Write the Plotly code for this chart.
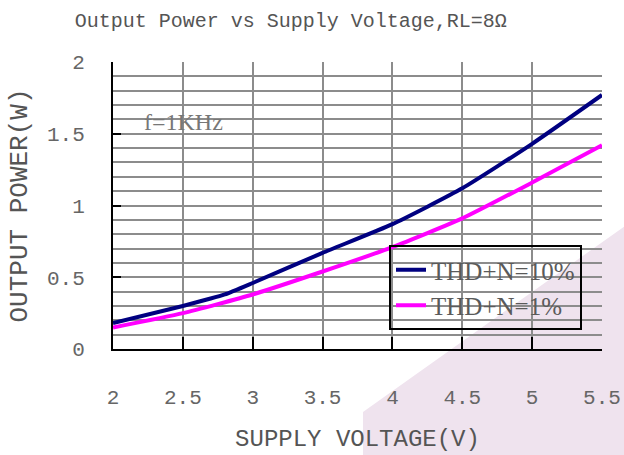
import plotly.graph_objects as go

# Output power vs supply voltage, RL = 8 ohm, f = 1 kHz
volts_10 = [2.0, 2.5, 2.8, 3.0, 3.5, 4.0, 4.5, 5.0, 5.5]
power_10 = [0.18, 0.30, 0.38, 0.46, 0.67, 0.87, 1.12, 1.43, 1.77]
volts_1 = [2.0, 2.5, 3.0, 3.5, 4.0, 4.5, 5.0, 5.5]
power_1 = [0.15, 0.25, 0.38, 0.54, 0.71, 0.91, 1.16, 1.42]

x_ticks = [2, 2.5, 3, 3.5, 4, 4.5, 5, 5.5]
x_labels = ["2", "2.5", "3", "3.5", "4", "4.5", "5", "5.5"]
y_ticks = [0, 0.5, 1, 1.5, 2]
y_labels = ["0", "0.5", "1", "1.5", "2"]

MONO = "Liberation Mono"
SERIF = "Liberation Serif"
GRID = "#8c8c8c"

fig = go.Figure()
fig.add_trace(go.Scatter(
    x=volts_10, y=power_10, mode="lines", name="THD+N=10%",
    line=dict(color="#000080", width=4, shape="spline", smoothing=0.5),
    legendgroup="a"))
fig.add_trace(go.Scatter(
    x=volts_1, y=power_1, mode="lines", name="THD+N=1%",
    line=dict(color="#ff00ff", width=4, shape="spline", smoothing=0.5),
    legendgroup="b"))

# plot-area geometry in pixels, used for paper-space placement
L, R, T, B = 113, 602, 62, 349
W, H = float(R - L), float(B - T)
def px(xp):
    return (xp - L) / W
def py(yp):
    return (B - yp) / H

# faint lavender backdrop in the lower right corner
path = "M {:.4f},{:.4f} L {:.4f},{:.4f} L {:.4f},{:.4f} L {:.4f},{:.4f} Z".format(
    px(363), py(456), px(363), py(412), px(625), py(226), px(625), py(456))
fig.add_shape(type="path", path=path, xref="paper", yref="paper",
              fillcolor="#efe3ee", line=dict(width=0), layer="below")

fig.add_annotation(x=2.21, y=1.58, xref="x", yref="y", text="f=1KHz",
                   showarrow=False, xanchor="left", yanchor="middle",
                   font=dict(family=SERIF, size=24, color="#777777"))

fig.update_layout(
    width=624, height=455,
    margin=dict(l=L, r=624 - R, t=T, b=455 - B, autoexpand=False),
    paper_bgcolor="white",
    plot_bgcolor="rgba(0,0,0,0)",
    title=dict(text="Output Power vs Supply Voltage,RL=8Ω",
               x=0.466, xanchor="center", y=0.955, yanchor="middle",
               font=dict(family=MONO, size=20, color="#555555")),
    showlegend=True,
    legend=dict(x=px(389), y=py(245), xanchor="left", yanchor="top",
                bgcolor="rgba(0,0,0,0)", bordercolor="black", borderwidth=2,
                font=dict(family=SERIF, size=25, color="#5a5a5a"),
                tracegroupgap=20, traceorder="normal"),
    xaxis=dict(range=[2, 5.5], tickvals=x_ticks, ticktext=x_labels,
               automargin=False,
               showgrid=True, gridcolor=GRID, gridwidth=1.5,
               showline=True, linecolor="black", linewidth=2,
               ticks="inside", ticklen=12, tickcolor="black", tickwidth=2,
               ticklabelstandoff=28,
               tickfont=dict(family=MONO, size=21, color="#666666"),
               zeroline=False, fixedrange=True,
               title=dict(text="SUPPLY VOLTAGE(V)", standoff=20,
                          font=dict(family=MONO, size=24, color="#555555"))),
    yaxis=dict(range=[0, 2], tickvals=y_ticks, ticktext=y_labels,
               automargin=False,
               showgrid=True, gridcolor=GRID, gridwidth=1.5,
               minor=dict(dtick=0.1, showgrid=True, gridcolor=GRID, gridwidth=1.5),
               showline=True, linecolor="black", linewidth=2,
               ticks="inside", ticklen=8, tickcolor="black", tickwidth=2,
               ticklabelstandoff=22,
               tickfont=dict(family=MONO, size=21, color="#666666"),
               zeroline=False, fixedrange=True,
               title=dict(text="OUTPUT POWER(W)", standoff=12,
                          font=dict(family=MONO, size=26, color="#555555"))),
)

fig.write_html("out.html")
